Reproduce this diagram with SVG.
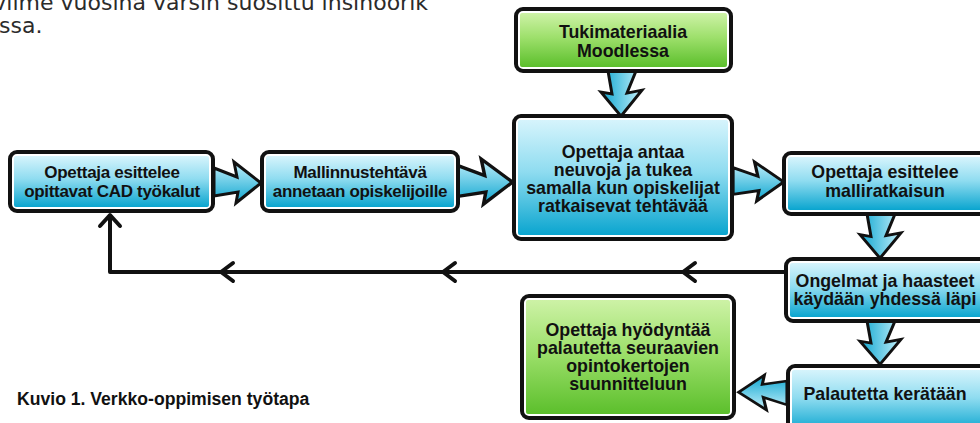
<svg xmlns="http://www.w3.org/2000/svg" width="980" height="423" viewBox="0 0 980 423">
<style>
.frame{fill:#fff;stroke:#111;stroke-width:4}
.fb{fill:url(#gBlue)}
.fg{fill:url(#gGreen)}
.lbl{font-family:"Liberation Sans",Arial,sans-serif;font-weight:bold;fill:#111;text-anchor:middle}
.s17{font-size:17px;letter-spacing:-0.3px}
.s18{font-size:17.8px}
.conn{fill:none;stroke:#111;stroke-width:4;stroke-linecap:round;stroke-linejoin:round}
.blk{fill:url(#gArrow);stroke:#111;stroke-width:3;stroke-linejoin:miter}
.body{font-family:"DejaVu Sans",Verdana,sans-serif;font-size:22px;fill:#2b2b2b}
.cap{font-family:"Liberation Sans",Arial,sans-serif;font-size:17.6px;font-weight:bold;fill:#111}
</style>
<defs>
<linearGradient id="gBlue" x1="0" y1="0" x2="0" y2="1">
<stop offset="0" stop-color="#d6f4fc"/>
<stop offset="0.45" stop-color="#8fdcf0"/>
<stop offset="1" stop-color="#0aa5cf"/>
</linearGradient>
<linearGradient id="gGreen" x1="0" y1="0" x2="0" y2="1">
<stop offset="0" stop-color="#cdf2a6"/>
<stop offset="0.45" stop-color="#9ee06c"/>
<stop offset="1" stop-color="#5cbf2c"/>
</linearGradient>
<linearGradient id="gArrow" x1="0" y1="0" x2="0" y2="1">
<stop offset="0" stop-color="#c4f0fb"/>
<stop offset="1" stop-color="#0ea6d0"/>
</linearGradient>
<path id="blockArrow" class="blk" d="M0,-14 L23,-5 L20,-20 L47,1 L22,21 L24,10 L0,14 Z"/>
</defs>

<rect width="980" height="423" fill="#fff"/>

<text class="body" x="428" y="10" text-anchor="end">viime vuosina varsin suosittu insinöörik</text>
<text class="body" x="-1" y="33">ssa.</text>

<g id="connectors">
<path class="conn" d="M784,272 H110 V216"/>
<path class="conn" d="M100,226 L110,215 L120,226"/>
<path class="conn" d="M233,263 L221,272 L233,281"/>
<path class="conn" d="M455,263 L443,272 L455,281"/>
<path class="conn" d="M695,263 L683,272 L695,281"/>
<use href="#blockArrow" transform="translate(214,182)"/>
<use href="#blockArrow" transform="translate(458,181) scale(1.16,1.1)"/>
<use href="#blockArrow" transform="translate(733,181) scale(1.08,0.95)"/>
<use href="#blockArrow" transform="translate(622,71) rotate(90) scale(0.96,1)"/>
<use href="#blockArrow" transform="translate(881,214) rotate(90) scale(0.94,1)"/>
<use href="#blockArrow" transform="translate(881,321) rotate(90) scale(0.92,1)"/>
<use href="#blockArrow" transform="translate(787,393) rotate(180) scale(1.03,0.85)"/>
</g>

<g id="n1">
<rect class="frame" x="10" y="152" width="203" height="59" rx="7"/>
<rect class="fb" x="14" y="156" width="195" height="51" rx="2"/>
<text class="lbl s17" x="112" y="178">Opettaja esittelee</text>
<text class="lbl s17" x="112" y="197">opittavat CAD työkalut</text>
</g>

<g id="n2">
<rect class="frame" x="262" y="152" width="196" height="59" rx="7"/>
<rect class="fb" x="266" y="156" width="188" height="51" rx="2"/>
<text class="lbl s17" x="360" y="178">Mallinnustehtävä</text>
<text class="lbl s17" x="360" y="197">annetaan opiskelijoille</text>
</g>

<g id="n0">
<rect class="frame" x="516" y="9" width="215" height="62" rx="7"/>
<rect class="fg" x="520" y="13" width="207" height="54" rx="2"/>
<text class="lbl s18" x="623" y="38">Tukimateriaalia</text>
<text class="lbl s18" x="623" y="57">Moodlessa</text>
</g>

<g id="n3">
<rect class="frame" x="514" y="116" width="218" height="123" rx="7"/>
<rect class="fb" x="518" y="120" width="210" height="115" rx="2"/>
<text class="lbl s18" x="623" y="158">Opettaja antaa</text>
<text class="lbl s18" x="623" y="176">neuvoja ja tukea</text>
<text class="lbl s18" x="623" y="194">samalla kun opiskelijat</text>
<text class="lbl s18" x="623" y="212">ratkaisevat tehtävää</text>
</g>

<g id="n4">
<rect class="frame" x="784" y="153" width="210" height="61" rx="7"/>
<rect class="fb" x="788" y="157" width="202" height="53" rx="2"/>
<text class="lbl s18" x="885" y="178">Opettaja esittelee</text>
<text class="lbl s18" x="885" y="197">malliratkaisun</text>
</g>

<g id="n5">
<rect class="frame" x="786" y="259" width="210" height="62" rx="7"/>
<rect class="fb" x="790" y="263" width="202" height="54" rx="2"/>
<text class="lbl s18" x="885" y="287">Ongelmat ja haasteet</text>
<text class="lbl s18" x="885" y="305">käydään yhdessä läpi</text>
</g>

<g id="n6">
<rect class="frame" x="788" y="366" width="210" height="70" rx="7"/>
<rect class="fb" x="792" y="370" width="202" height="62" rx="2"/>
<text class="lbl s18" x="885" y="400">Palautetta kerätään</text>
</g>

<g id="n7">
<rect class="frame" x="522" y="296" width="212" height="122" rx="7"/>
<rect class="fg" x="526" y="300" width="204" height="114" rx="2"/>
<text class="lbl s18" x="628" y="336">Opettaja hyödyntää</text>
<text class="lbl s18" x="628" y="354">palautetta seuraavien</text>
<text class="lbl s18" x="628" y="372">opintokertojen</text>
<text class="lbl s18" x="628" y="390">suunnitteluun</text>
</g>

<text class="cap" x="17" y="405">Kuvio 1. Verkko-oppimisen työtapa</text>
</svg>
